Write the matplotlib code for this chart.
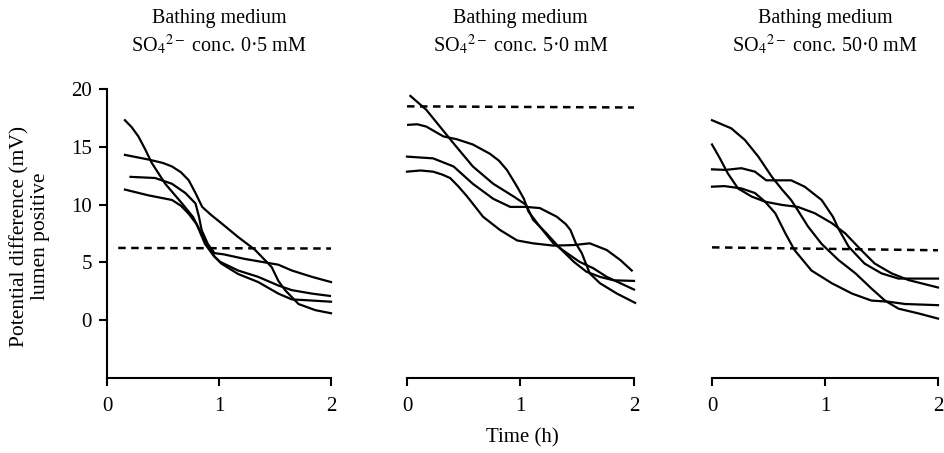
import matplotlib
matplotlib.use("Agg")
import matplotlib.pyplot as plt

plt.rcParams['font.family'] = ['Liberation Serif', 'DejaVu Serif']
plt.rcParams['mathtext.fontset'] = 'stix'

# panel titles (SO4 2- concentration)
concs = ["0·5", "5·0", "50·0"]
control = [6.25, 18.5, 6.3]   # dashed line level in each panel
ctrl_end = [6.2, 18.4, 6.05]
ctrl_start = [0.1, 0.0, 0.0]

# panel 1 - 0.5 mM
p1_a_x = [0.16, 0.22, 0.28, 0.34, 0.40, 0.52, 0.67, 0.77, 0.875, 0.96, 1.01, 1.17, 1.35, 1.53, 1.65, 1.83, 1.99]
p1_a_y = [17.3, 16.7, 15.9, 14.8, 13.6, 11.8, 10.1, 8.9, 6.9, 5.5, 5.05, 4.3, 3.75, 3.0, 2.6, 2.3, 2.1]
p1_b_x = [0.16, 0.37, 0.50, 0.58, 0.66, 0.73, 0.79, 0.85, 0.93, 1.02, 1.17, 1.32, 1.40, 1.47, 1.53, 1.59, 1.71, 1.86, 2.0]
p1_b_y = [14.3, 13.9, 13.6, 13.3, 12.8, 12.1, 11.0, 9.8, 9.1, 8.4, 7.2, 6.1, 5.3, 4.6, 3.4, 2.6, 1.4, 0.87, 0.6]
p1_c_x = [0.21, 0.43, 0.58, 0.70, 0.79, 0.82, 0.845, 0.90, 0.96, 1.04, 1.23, 1.41, 1.53, 1.65, 1.83, 2.0]
p1_c_y = [12.4, 12.3, 11.8, 11.0, 10.1, 9.0, 7.8, 6.6, 5.8, 5.7, 5.3, 5.0, 4.8, 4.3, 3.75, 3.3]
p1_d_x = [0.16, 0.37, 0.58, 0.66, 0.73, 0.80, 0.875, 0.95, 1.02, 1.17, 1.35, 1.53, 1.65, 1.83, 2.0]
p1_d_y = [11.3, 10.8, 10.4, 9.9, 9.2, 8.3, 6.6, 5.6, 4.9, 4.0, 3.3, 2.3, 1.8, 1.7, 1.6]

# panel 2 - 5.0 mM
p2_a_x = [0.03, 0.17, 0.29, 0.41, 0.58, 0.76, 0.94, 1.05, 1.11, 1.23, 1.35, 1.47, 1.58, 1.70, 1.82, 2.0]
p2_a_y = [19.4, 18.2, 16.75, 15.3, 13.3, 11.8, 10.7, 9.97, 8.7, 7.5, 6.2, 5.05, 4.2, 3.75, 3.45, 3.4]
p2_b_x = [0.01, 0.09, 0.17, 0.32, 0.44, 0.58, 0.73, 0.81, 0.88, 0.93, 0.97, 1.03, 1.07, 1.17, 1.29, 1.41, 1.52, 1.64, 1.76, 1.88, 2.0]
p2_b_y = [16.9, 16.95, 16.75, 15.9, 15.65, 15.2, 14.4, 13.8, 13.0, 12.2, 11.55, 10.5, 9.4, 8.1, 6.65, 5.8, 5.05, 4.5, 3.75, 3.2, 2.65]
p2_c_x = [0.0, 0.23, 0.41, 0.58, 0.76, 0.91, 1.05, 1.17, 1.32, 1.40, 1.44, 1.49, 1.54, 1.61, 1.70, 1.85, 2.01]
p2_c_y = [14.15, 14.0, 13.3, 11.8, 10.5, 9.8, 9.8, 9.7, 8.95, 8.3, 7.8, 6.6, 5.8, 4.05, 3.2, 2.3, 1.5]
p2_d_x = [0.0, 0.12, 0.23, 0.31, 0.38, 0.45, 0.53, 0.67, 0.82, 0.97, 1.11, 1.29, 1.47, 1.61, 1.76, 1.88, 1.98]
p2_d_y = [12.85, 12.95, 12.85, 12.6, 12.3, 11.6, 10.7, 8.95, 7.8, 6.9, 6.65, 6.45, 6.5, 6.65, 6.07, 5.2, 4.3]

# panel 3 - 50.0 mM
p3_a_x = [0.0, 0.17, 0.29, 0.41, 0.53, 0.62, 0.70, 0.76, 0.85, 0.97, 1.12, 1.27, 1.41, 1.53, 1.65, 1.83, 2.0]
p3_a_y = [17.3, 16.6, 15.6, 14.15, 12.4, 11.3, 10.4, 9.5, 8.1, 6.6, 5.2, 4.05, 2.75, 1.7, 1.0, 0.58, 0.14]
p3_b_x = [0.0, 0.07, 0.14, 0.23, 0.35, 0.47, 0.56, 0.65, 0.73, 0.88, 1.06, 1.24, 1.41, 1.56, 1.71, 2.0]
p3_b_y = [15.2, 14.0, 12.7, 11.4, 10.7, 10.25, 9.25, 7.5, 6.07, 4.3, 3.2, 2.3, 1.7, 1.6, 1.4, 1.3]
p3_c_x = [0.0, 0.12, 0.26, 0.38, 0.48, 0.56, 0.70, 0.82, 0.97, 1.07, 1.12, 1.21, 1.35, 1.50, 1.65, 1.83, 2.0]
p3_c_y = [13.05, 13.0, 13.15, 12.85, 12.1, 12.1, 12.1, 11.55, 10.4, 8.95, 7.9, 6.35, 4.9, 4.05, 3.6, 3.6, 3.6]
p3_d_x = [0.0, 0.11, 0.26, 0.38, 0.47, 0.62, 0.76, 0.91, 1.06, 1.18, 1.32, 1.44, 1.59, 1.74, 2.0]
p3_d_y = [11.55, 11.6, 11.4, 11.0, 10.25, 9.97, 9.8, 9.25, 8.4, 7.5, 6.07, 4.9, 4.05, 3.47, 2.83]

panels = [
    [(p1_a_x, p1_a_y), (p1_b_x, p1_b_y), (p1_c_x, p1_c_y), (p1_d_x, p1_d_y)],
    [(p2_a_x, p2_a_y), (p2_b_x, p2_b_y), (p2_c_x, p2_c_y), (p2_d_x, p2_d_y)],
    [(p3_a_x, p3_a_y), (p3_b_x, p3_b_y), (p3_c_x, p3_c_y), (p3_d_x, p3_d_y)],
]

fig = plt.figure(figsize=(9.45, 4.53), dpi=100)
lefts = [107, 407, 712]
rights = [331, 634, 938]

for i in range(3):
    l = lefts[i] / 945
    w = (rights[i] - lefts[i]) / 945
    ax = fig.add_axes([l, 1 - 378 / 453, w, (378 - 89) / 453])
    for xs, ys in panels[i]:
        ax.plot(xs, ys, color='black', lw=1.6, clip_on=False, solid_joinstyle='round')
    ax.plot([ctrl_start[i], 2.0], [control[i], ctrl_end[i]], color='black', lw=1.8,
            linestyle=(0, (3, 2.2)), clip_on=False)
    ax.set_xlim(0, 2)
    ax.set_ylim(-5, 20)
    ax.set_xticks([0, 1, 2])
    ax.set_xticklabels(['0', '1', '2'])
    ax.spines['top'].set_visible(False)
    ax.spines['right'].set_visible(False)
    for s in ax.spines.values():
        s.set_linewidth(1.5)
    ax.tick_params(axis='x', direction='out', length=6, width=1.5, pad=8, labelsize=15)
    if i == 0:
        ax.set_yticks([0, 5, 10, 15, 20])
        ax.tick_params(axis='y', direction='out', length=6, width=1.5, pad=5, labelsize=15)
    else:
        ax.spines['left'].set_visible(False)
        ax.set_yticks([])
    ax.text(0.5, 1 + (89 - 18) / 289, "Bathing medium", transform=ax.transAxes,
            ha='center', va='center', fontsize=14.5)
    ax.text(0.5, 1 + (89 - 45) / 289, r"SO$_4{}^{2-}$ conc. " + concs[i] + " mM",
            transform=ax.transAxes, ha='center', va='center', fontsize=14.5)

fig.text(30 / 945, 1 - 236 / 453, "Potential difference (mV)\nlumen positive",
         rotation=90, ha='center', va='center', fontsize=15.5, multialignment='center',
         linespacing=1.05)
fig.text(522 / 945, 1 - 438 / 453, "Time (h)", ha='center', va='center', fontsize=15)

plt.savefig('out.png', dpi=100)
